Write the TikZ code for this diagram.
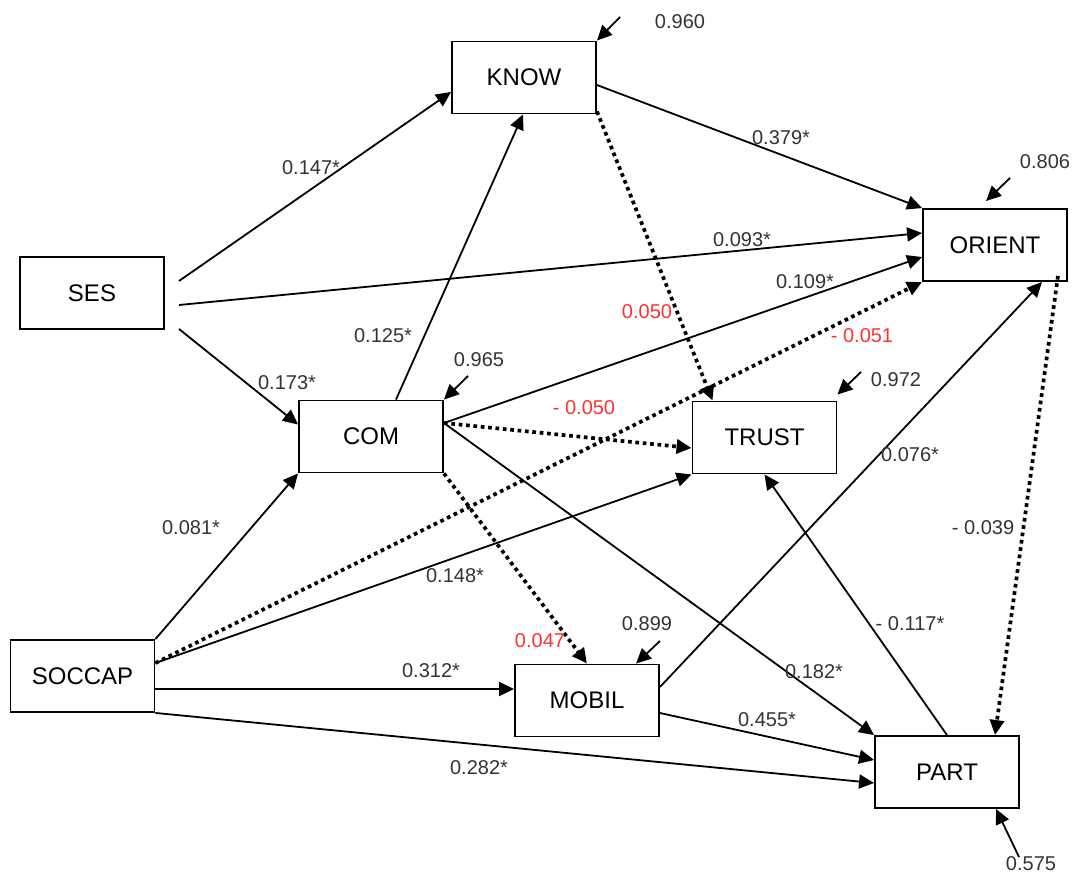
\documentclass[tikz,border=0pt]{standalone}
\usepackage{fontspec}
\setmainfont{Liberation Sans}
\usetikzlibrary{arrows.meta,calc}
\definecolor{coefgray}{HTML}{333333}
\definecolor{coefred}{HTML}{FF3030}

\begin{document}
\begin{tikzpicture}[x=1pt,y=-1pt,
  varbox/.style={draw,line width=1.9pt,minimum width=144pt,minimum height=72pt,
    inner sep=0pt,font=\fontsize{24}{28}\selectfont},
  causal/.style={line width=1.8pt,-{Triangle[length=15pt,width=14pt]}},
  dotcausal/.style={causal,line width=3.7pt,dash pattern=on 3.7pt off 3.7pt},
  coef/.style={inner sep=0pt,text=coefgray,font=\fontsize{20}{24}\selectfont},
  coefns/.style={coef,text=coefred}]
\useasboundingbox (0,0) rectangle (1081,877);

% variables
\node[varbox] (know)   at (524,77.5)  {KNOW};
\node[varbox] (ses)    at (92,293)    {SES};
\node[varbox] (com)    at (371,436.5) {COM};
\node[varbox] (orient) at (995,245)   {ORIENT};
\node[varbox] (trust)  at (764.5,437.5) {TRUST};
\node[varbox] (soccap) at (82.5,676)  {SOCCAP};
\node[varbox] (mobil)  at (587,700.5) {MOBIL};
\node[varbox] (part)   at (947,772)   {PART};

% significant paths
\draw[causal] ($(ses.east)+(14,-12)$) -- ($(know.west)+(0,14.5)$);
\draw[causal] ($(ses.east)+(14,12)$) -- ($(orient.west)+(0,-12)$);
\draw[causal] ($(ses.south east)+(14,-1)$) -- ($(com.west)+(0,-12)$);
\draw[causal] ($(com.north)+(25,0)$) -- ($(know.south)+(-1,0)$);
\draw[causal] ($(know.east)+(0,7.5)$) -- (orient.north west);
\draw[causal] ($(com.east)+(0,-13.5)$) -- ($(orient.west)+(0,12)$);
\draw[causal] ($(soccap.east)+(0,-13)$) -- (trust.south west);
\draw[causal] (soccap.north east) -- (com.south west);
\draw[causal] ($(com.east)+(0,-13.5)$) -- (part.north west);
\draw[causal] ($(soccap.east)+(0,13)$) -- ($(mobil.west)+(0,-11.5)$);
\draw[causal] (soccap.south east) -- ($(part.west)+(0,11)$);
\draw[causal] ($(mobil.east)+(0,-13.5)$) -- ($(orient.south)+(47,0)$);
\draw[causal] ($(mobil.east)+(0,12.5)$) -- ($(part.west)+(0,-12)$);
\draw[causal] (part.north) -- (trust.south);

% non-significant paths
\draw[dotcausal] ($(know.south east)+(0,-3)$) -- ($(trust.north west)+(21,0)$);
\draw[dotcausal] ($(soccap.east)+(0,-13)$) -- (orient.south west);
\draw[dotcausal] ($(com.east)+(0,-13.5)$) -- ($(trust.west)+(0,10.5)$);
\draw[dotcausal] (com.south east) -- (mobil.north);
\draw[dotcausal] ($(orient.south east)+(-10,-6)$) -- ($(part.north)+(48,0)$);

% disturbance terms
\coordinate (eknow)   at (620,17);
\coordinate (eorient) at (1010,178);
\coordinate (ecom)    at (468,376);
\coordinate (etrust)  at (861,372);
\coordinate (emobil)  at (660,641);
\coordinate (epart)   at (1019,857);
\draw[causal] (eknow) -- (know.north east);
\draw[causal] (eorient) -- ($(orient.north)+(-9,-7)$);
\draw[causal] (ecom) -- (com.north east);
\draw[causal] (etrust) -- ($(trust.north east)+(0,-6)$);
\draw[causal] (emobil) -- ($(mobil.north)+(49,0)$);
\draw[causal] (epart) -- ($(part.south)+(49,0)$);

% path coefficients
\node[coef] (c1)  at (311,168) {0.147*};
\node[coef] (c2)  at (742,240) {0.093*};
\node[coef] (c3)  at (287,383) {0.173*};
\node[coef] (c4)  at (383,336) {0.125*};
\node[coef] (c5)  at (781,138) {0.379*};
\node[coef] (c6)  at (805,282) {0.109*};
\node[coef] (c7)  at (455,576) {0.148*};
\node[coef] (c8)  at (191,528) {0.081*};
\node[coef] (c9)  at (814,672) {0.182*};
\node[coef] (c10) at (431,671) {0.312*};
\node[coef] (c11) at (479,768) {0.282*};
\node[coef] (c12) at (910,455) {0.076*};
\node[coef] (c13) at (767,720) {0.455*};
\node[coef] (c14) at (910,624) {- 0.117*};
\node[coef] (c15) at (983,528) {- 0.039};
\node[coefns] (n1) at (647,312) {0.050};
\node[coefns] (n2) at (862,336) {- 0.051};
\node[coefns] (n3) at (584,408) {- 0.050};
\node[coefns] (n4) at (540,641) {0.047};

% disturbance values
\node[coef] (d1) at (680,22)   {0.960};
\node[coef] (d2) at (1045,162) {0.806};
\node[coef] (d3) at (479,360)  {0.965};
\node[coef] (d4) at (896,380)  {0.972};
\node[coef] (d5) at (647,624)  {0.899};
\node[coef] (d6) at (1031,864) {0.575};
\end{tikzpicture}
\end{document}
